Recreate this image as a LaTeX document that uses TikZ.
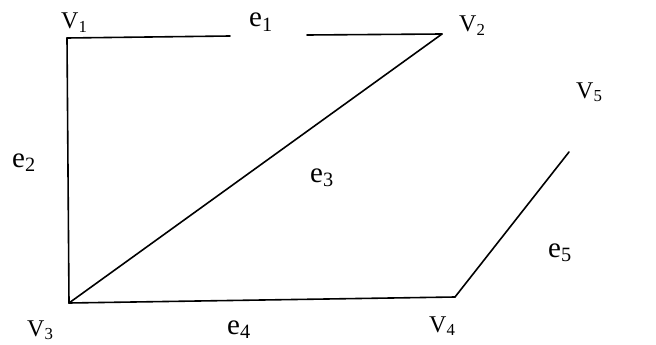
\documentclass[tikz,border=0pt]{standalone}
\usepackage{fontspec}
\setmainfont{Liberation Serif}

\begin{document}
\begin{tikzpicture}[x=1pt,y=-1pt,
    vlabel/.style={anchor=base west, inner sep=0pt, font=\fontsize{24}{28}\selectfont},
    elabel/.style={anchor=base west, inner sep=0pt, font=\fontsize{29}{33}\selectfont},
    edge/.style={line width=1.6pt, line cap=round}]
    \useasboundingbox (0,0) rectangle (656,345);

    % Vertices
    \coordinate (v1) at (67,38);
    \coordinate (v2) at (442,34);
    \coordinate (v3) at (69,303);
    \coordinate (v4) at (455,297);
    \coordinate (v5) at (569,152);
    \coordinate (g1) at (230,36);
    \coordinate (g2) at (307,35);

    % Edges
    \draw[edge] (v1) -- (g1);
    \draw[edge] (g2) -- (v2);
    \draw[edge] (v1) -- (v3);
    \draw[edge] (v2) -- (v3);
    \draw[edge] (v3) -- (v4);
    \draw[edge] (v4) -- (v5);

    % Vertex labels
    \node[vlabel] (l1) at (61,29) {V\textsubscript{1}};
    \node[vlabel] (l2) at (459,32) {V\textsubscript{2}};
    \node[vlabel] (l3) at (27,336) {V\textsubscript{3}};
    \node[vlabel] (l4) at (429,332) {V\textsubscript{4}};
    \node[vlabel] (l5) at (576,98) {V\textsubscript{5}};

    % Edge labels
    \node[elabel] (k1) at (249,27) {e\textsubscript{1}};
    \node[elabel] (k2) at (12,167) {e\textsubscript{2}};
    \node[elabel] (k3) at (310,182) {e\textsubscript{3}};
    \node[elabel] (k4) at (227,334) {e\textsubscript{4}};
    \node[elabel] (k5) at (548,257) {e\textsubscript{5}};
\end{tikzpicture}
\end{document}
